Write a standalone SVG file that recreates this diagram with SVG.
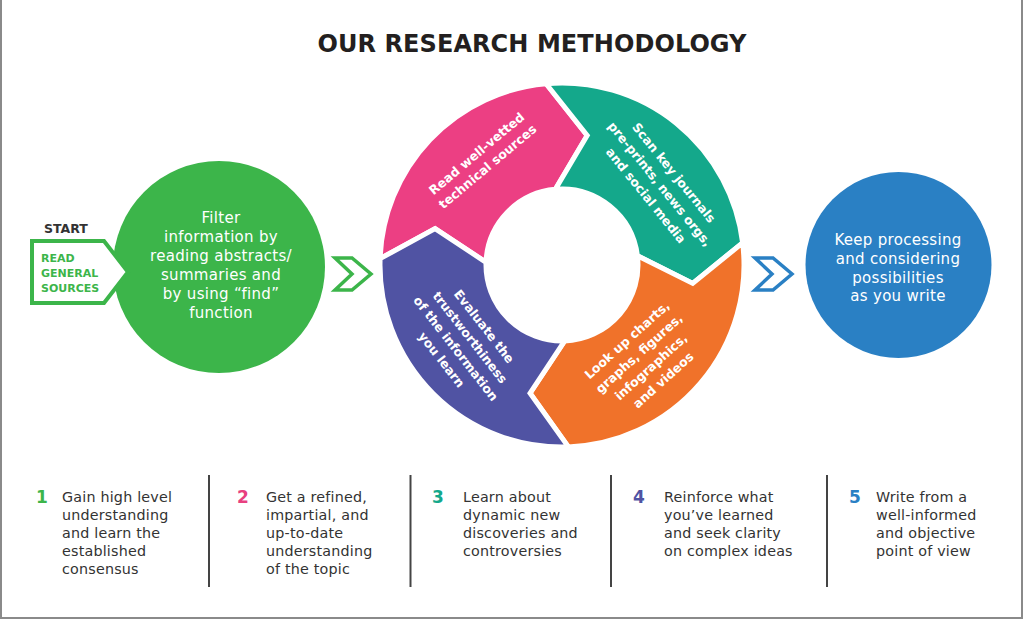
<svg xmlns="http://www.w3.org/2000/svg" width="1024" height="620" viewBox="0 0 1024 620">
<style>
.t{font-family:"DejaVu Sans","Liberation Sans",sans-serif}
.title{font-family:"DejaVu Sans","Liberation Sans",sans-serif;font-weight:bold;font-size:24px;fill:#231f20}
.circ{font-family:"DejaVu Sans","Liberation Sans",sans-serif;font-size:15px;fill:#fff;text-anchor:middle;letter-spacing:0.3px}
.seg{font-family:"DejaVu Sans","Liberation Sans",sans-serif;font-size:12.5px;font-weight:bold;fill:#fff;text-anchor:middle}
.seg path{stroke:#fff;stroke-width:5}
.leg{font-family:"DejaVu Sans","Liberation Sans",sans-serif;font-size:14.3px;fill:#333;letter-spacing:0.2px}
.num{font-family:"DejaVu Sans","Liberation Sans",sans-serif;font-size:17px;font-weight:bold}
.div{stroke:#444;stroke-width:2}
.chev{fill:#fff;stroke-width:3.5;stroke-linejoin:miter}
</style>
<rect width="1024" height="620" fill="#fff"/>
<path d="M1,0 V618 H1022 V0" fill="none" stroke="#8a8a8a" stroke-width="2"/>
<text class="title" x="532" y="52" text-anchor="middle" textLength="429">OUR RESEARCH METHODOLOGY</text>

<g id="filter">
<circle cx="219" cy="267" r="106" fill="#3cb54a"/>
<g class="circ">
<text x="221" y="223">Filter</text>
<text x="221" y="242">information by</text>
<text x="221" y="261">reading abstracts/</text>
<text x="221" y="280">summaries and</text>
<text x="221" y="299">by using “find”</text>
<text x="221" y="318">function</text>
</g>
</g>

<g id="start">
<text class="t" x="44" y="233" font-size="12.5" font-weight="bold" fill="#333">START</text>
<path d="M32,241 H104 L128,272 L104,303 H32 Z" fill="#fff" stroke="#3cb54a" stroke-width="4"/>
<g class="t" font-size="11" font-weight="bold" fill="#3cb54a">
<text x="41" y="262">READ</text>
<text x="41" y="277">GENERAL</text>
<text x="41" y="292">SOURCES</text>
</g>
</g>

<g id="connectors">
<path class="chev" stroke="#3cb54a" d="M335,258 H352 L371,274 L352,290 H335 L352,274 Z"/>
<path class="chev" stroke="#2a80c4" d="M755,258 H773 L792,274 L773,290 H755 L772,274 Z"/>
</g>

<g id="cycle" class="seg">
<g id="seg-pink">
<path fill="#ec3f83" d="M380.11,258.65 A182,182 0 0 1 546.14,83.69 L587.19,135.42 L555.38,189.29 A76,76 0 0 0 486.05,262.35 L435.11,228.62 Z"/>
<g transform="translate(482,160) rotate(-40)">
<text y="-4">Read well-vetted</text>
<text y="13">technical sources</text>
</g>
</g>
<g id="seg-teal">
<path fill="#14a88b" d="M546.14,83.69 A182,182 0 0 1 742.64,242.82 L692.72,283.37 L637.43,255.74 A76,76 0 0 0 555.38,189.29 L587.19,135.42 Z"/>
<g transform="translate(660,184) rotate(51)">
<text y="-13.5">Scan key journals</text>
<text y="4.5">pre-prints, news orgs,</text>
<text y="22.5">and social media</text>
</g>
</g>
<g id="seg-orange">
<path fill="#f0722a" d="M742.64,242.82 A182,182 0 0 1 568.35,446.89 L530.07,393.08 L564.65,340.95 A76,76 0 0 0 637.43,255.74 L692.72,283.37 Z"/>
<g transform="translate(645,360) rotate(-42)">
<text y="-22.5">Look up charts,</text>
<text y="-4.5">graphs, figures,</text>
<text y="13.5">infographics,</text>
<text y="31.5">and videos</text>
</g>
</g>
<g id="seg-purple">
<path fill="#5053a3" d="M568.35,446.89 A182,182 0 0 1 380.11,258.65 L435.11,228.62 L486.05,262.35 A76,76 0 0 0 564.65,340.95 L530.07,393.08 Z"/>
<g transform="translate(463,343) rotate(52)">
<text y="-22.5">Evaluate the</text>
<text y="-4.5">trustworthiness</text>
<text y="13.5">of the information</text>
<text y="31.5">you learn</text>
</g>
</g>
</g>

<g id="keep">
<circle cx="898.5" cy="265" r="93" fill="#2a80c4"/>
<g class="circ">
<text x="898" y="245">Keep processing</text>
<text x="898" y="264">and considering</text>
<text x="898" y="282.5">possibilities</text>
<text x="898" y="301">as you write</text>
</g>
</g>

<g id="legend">
<line class="div" x1="209" y1="475" x2="209" y2="587"/>
<line class="div" x1="410.5" y1="475" x2="410.5" y2="587"/>
<line class="div" x1="611" y1="475" x2="611" y2="587"/>
<line class="div" x1="827" y1="475" x2="827" y2="587"/>
<g id="leg1">
<text class="num" x="36" y="503" fill="#3cb54a">1</text>
<text class="leg" x="62" y="502"><tspan x="62">Gain high level</tspan><tspan x="62" dy="18">understanding</tspan><tspan x="62" dy="18">and learn the</tspan><tspan x="62" dy="18">established</tspan><tspan x="62" dy="18">consensus</tspan></text>
</g>
<g id="leg2">
<text class="num" x="237" y="503" fill="#e8407f">2</text>
<text class="leg" x="266" y="502"><tspan x="266">Get a refined,</tspan><tspan x="266" dy="18">impartial, and</tspan><tspan x="266" dy="18">up-to-date</tspan><tspan x="266" dy="18">understanding</tspan><tspan x="266" dy="18">of the topic</tspan></text>
</g>
<g id="leg3">
<text class="num" x="432" y="503" fill="#14a88b">3</text>
<text class="leg" x="463" y="502"><tspan x="463">Learn about</tspan><tspan x="463" dy="18">dynamic new</tspan><tspan x="463" dy="18">discoveries and</tspan><tspan x="463" dy="18">controversies</tspan></text>
</g>
<g id="leg4">
<text class="num" x="633" y="503" fill="#5053a3">4</text>
<text class="leg" x="664" y="502"><tspan x="664">Reinforce what</tspan><tspan x="664" dy="18">you’ve learned</tspan><tspan x="664" dy="18">and seek clarity</tspan><tspan x="664" dy="18">on complex ideas</tspan></text>
</g>
<g id="leg5">
<text class="num" x="849" y="503" fill="#2a80c4">5</text>
<text class="leg" x="876" y="502"><tspan x="876">Write from a</tspan><tspan x="876" dy="18">well-informed</tspan><tspan x="876" dy="18">and objective</tspan><tspan x="876" dy="18">point of view</tspan></text>
</g>
</g>
</svg>
